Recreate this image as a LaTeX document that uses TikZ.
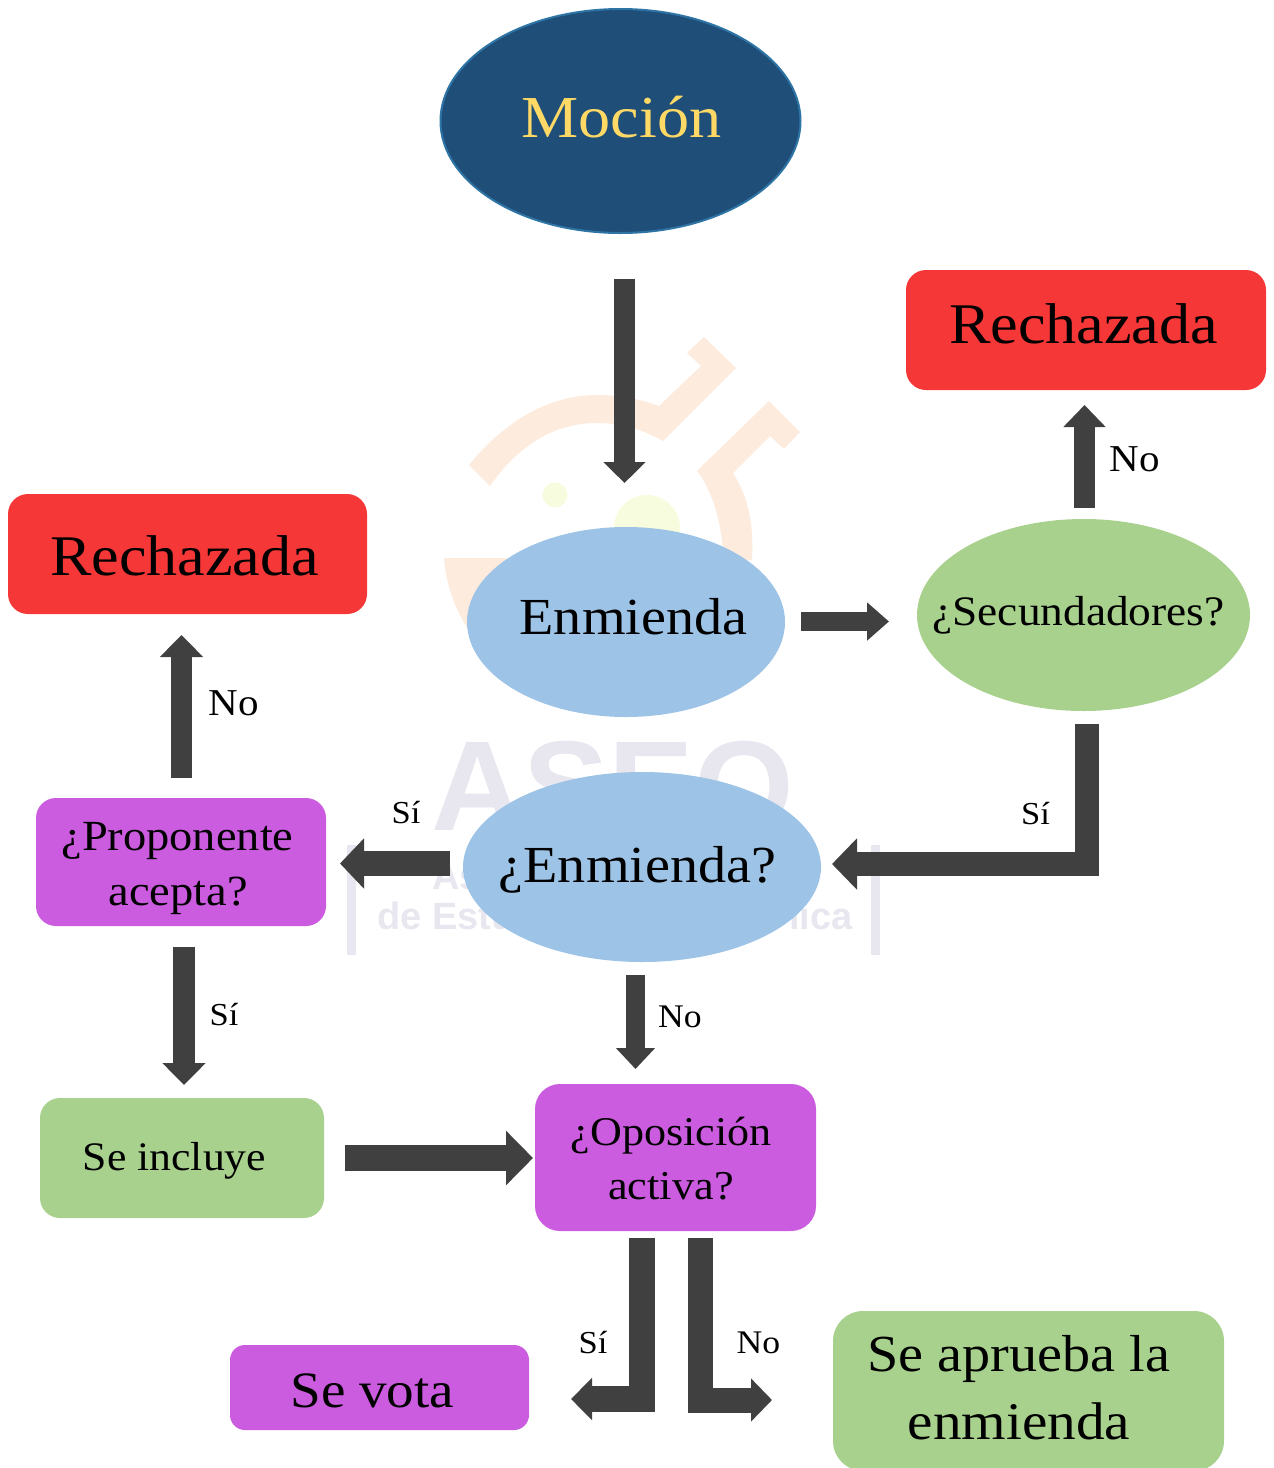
\documentclass[tikz,border=0pt]{standalone}
\usepackage{fontspec}
\setmainfont[FakeStretch=1.08]{Liberation Serif}
\newfontfamily\wmfont{Liberation Sans}
\usetikzlibrary{arrows.meta,shapes.geometric,calc}
\definecolor{darkblue}{HTML}{1F4E79}
\definecolor{edgeblue}{HTML}{2E75A6}
\definecolor{gold}{HTML}{FFD966}
\definecolor{lightblue}{HTML}{9DC3E6}
\definecolor{green1}{HTML}{A9D18E}
\definecolor{red1}{HTML}{F63737}
\definecolor{purple1}{HTML}{CB5BDF}
\definecolor{arrowgray}{HTML}{404040}
\definecolor{wmorange}{HTML}{FDEBDD}
\definecolor{wmyellow}{HTML}{F6FCDD}
\definecolor{wmgray}{HTML}{E8E6EE}
\newcommand{\fs}[1]{\fontsize{#1}{#1}\selectfont}
\tikzset{
  x=1pt,y=-1pt,
  ell/.style={ellipse,inner sep=0pt,outer sep=0pt},
  box/.style={rectangle,inner sep=0pt,outer sep=0pt},
  lbl/.style={inner sep=0pt,outer sep=0pt,text=black,anchor=base},
  wm/.style={inner sep=0pt,text=wmgray},
  blockarrow/.style args={#1/#2/#3}{draw=arrowgray,line width=#1pt,line join=miter,line cap=butt,
    -{Triangle[length=#3pt,width=#2pt,fill=arrowgray]}},
}
\begin{document}
\begin{tikzpicture}
\useasboundingbox (0,0) rectangle (1274,1468);
% watermark
\fill[wmorange] (469,465) .. controls (510,415) and (555,395) .. (597,395)
  .. controls (620,395) and (640,399) .. (659,406) -- (701,366) -- (687,353) -- (704,337) -- (736,368) -- (663,441)
  .. controls (642,429) and (620,423) .. (597,423)
  .. controls (550,423) and (515,450) .. (490,486) -- cycle;
\fill[wmorange] (769,401) -- (800,432) -- (784,449) -- (770,436) -- (733,473)
  .. controls (747,495) and (754,520) .. (752,560) -- (723,560)
  .. controls (723,525) and (712,490) .. (697,471) -- cycle;
\fill[wmorange] (444,558) -- (520,558) -- (500,650) -- (470,632) .. controls (455,610) and (446,585) .. (444,558) -- cycle;
\fill[wmyellow] (555,495) circle (12.5);
\fill[wmyellow] (647,528) circle (33);
\node[wm,anchor=base west] (wmaseo) at (431,830) {\wmfont\bfseries\fs{128}ASEO};
\node[wm,anchor=base west] (wmas) at (432,889) {\wmfont\bfseries\fs{38}As};
\node[wm,anchor=base west] (wmde) at (377,929) {\wmfont\bfseries\fs{38}de Estu};
\node[wm,anchor=base east] (wmica) at (853,929) {\wmfont\bfseries\fs{38}lica};
\fill[wmgray] (347,845) rectangle (356,955);
\fill[wmgray] (871,845) rectangle (880,955);
% nodes
\node[ell,fill=darkblue,draw=edgeblue,line width=2pt,minimum width=360pt,minimum height=224pt] (mocion) at (620.5,121) {};
\node[box,fill=red1,rounded corners=20pt,minimum width=360pt,minimum height=120pt] (rechR) at (1086,330) {};
\node[box,fill=red1,rounded corners=20pt,minimum width=359pt,minimum height=120pt] (rechL) at (187.5,554) {};
\node[ell,fill=lightblue,minimum width=318pt,minimum height=190pt] (enm) at (626,622) {};
\node[ell,fill=green1,minimum width=333pt,minimum height=192pt] (sec) at (1083.5,615) {};
\node[ell,fill=lightblue,minimum width=358pt,minimum height=190pt] (qenm) at (642,867) {};
\node[box,fill=purple1,rounded corners=20pt,minimum width=290pt,minimum height=128pt] (prop) at (181,862) {};
\node[box,fill=green1,rounded corners=20pt,minimum width=284pt,minimum height=120pt] (incl) at (182,1158) {};
\node[box,fill=purple1,rounded corners=25pt,minimum width=281pt,minimum height=147pt] (opos) at (675.5,1157.5) {};
\node[box,fill=purple1,rounded corners=15pt,minimum width=299pt,minimum height=85pt] (vota) at (379.5,1387.5) {};
\node[box,fill=green1,rounded corners=30pt,minimum width=391pt,minimum height=160pt] (aprueba) at (1028.5,1391) {};
% node texts
\node[lbl,text=gold] (tmocion) at (621.5,137) {\fs{59.5}Moción};
\node[lbl] (trechR) at (1083.5,343) {\fs{57.5}Rechazada};
\node[lbl] (trechL) at (184.5,575) {\fs{57.5}Rechazada};
\node[lbl] (tenm) at (633.5,634) {\fs{52}Enmienda};
\node[lbl] (tsec) at (1078.5,625) {\fs{42}¿Secundadores?};
\node[lbl] (tqenm) at (637.5,882) {\fs{52}¿Enmienda?};
\node[lbl] (tprop1) at (177.5,850) {\fs{43}¿Proponente};
\node[lbl] (tprop2) at (178,905) {\fs{43}acepta?};
\node[lbl] (tincl) at (174.5,1170) {\fs{40.5}Se incluye};
\node[lbl] (topos1) at (671,1145) {\fs{40.8}¿Oposición};
\node[lbl] (topos2) at (671,1199) {\fs{41}activa?};
\node[lbl] (tvota) at (372.5,1407) {\fs{51}Se vota};
\node[lbl] (tapr1) at (1019,1371) {\fs{52}Se aprueba la};
\node[lbl] (tapr2) at (1019,1439) {\fs{53}enmienda};
% connector labels
\node[lbl] (lno1) at (1135,471) {\fs{38}No};
\node[lbl] (lsi1) at (1035.5,824) {\fs{32}Sí};
\node[lbl] (lno2) at (233.5,715) {\fs{38}No};
\node[lbl] (lsi2) at (406,823) {\fs{32}Sí};
\node[lbl] (lsi3) at (224,1025) {\fs{32}Sí};
\node[lbl] (lno3) at (680,1027) {\fs{33}No};
\node[lbl] (lsi4) at (593,1353) {\fs{32}Sí};
\node[lbl] (lno4) at (758.5,1353) {\fs{33}No};
% connectors
\draw[blockarrow=21/41/21] ([xshift=4pt,yshift=-46pt]mocion.south) -- ([xshift=-1.5pt,yshift=44pt]enm.north);
\draw[blockarrow=19/37/22] ([xshift=16pt,yshift=0.5pt]enm.east) -- ([xshift=-28pt,yshift=-6.5pt]sec.west);
\draw[blockarrow=21/41/22] ([xshift=1pt,yshift=11pt]sec.north) -- ([xshift=-1.5pt,yshift=-15pt]rechR.south);
\draw[blockarrow=24/50/25] ([xshift=3.5pt,yshift=-13pt]sec.south) |- ([xshift=11pt,yshift=3pt]qenm.east);
\draw[blockarrow=25/49/24] ([xshift=-13pt,yshift=3.5pt]qenm.west) -- ([xshift=14pt,yshift=-1.5pt]prop.east);
\draw[blockarrow=21/42/22] ([xshift=0.5pt,yshift=20pt]prop.north) -- ([xshift=-6pt,yshift=-21pt]rechL.south);
\draw[blockarrow=22/42/22] ([xshift=3pt,yshift=-21pt]prop.south) -- ([xshift=2pt,yshift=13pt]incl.north);
\draw[blockarrow=19/38/21] ([xshift=-6.5pt,yshift=-13pt]qenm.south) -- ([xshift=-40pt,yshift=15pt]opos.north);
\draw[blockarrow=26/53/27] ([xshift=21pt]incl.east) -- ([xshift=-2pt,yshift=-0.5pt]opos.west);
\draw[blockarrow=26/41/21] ([xshift=-33.5pt,yshift=-7pt]opos.south) |- ([xshift=42pt,yshift=-11.5pt]vota.east);
\draw[blockarrow=25/42/21] ([xshift=25pt,yshift=-7pt]opos.south) |- ([xshift=-61pt,yshift=-9pt]aprueba.west);
\end{tikzpicture}
\end{document}
